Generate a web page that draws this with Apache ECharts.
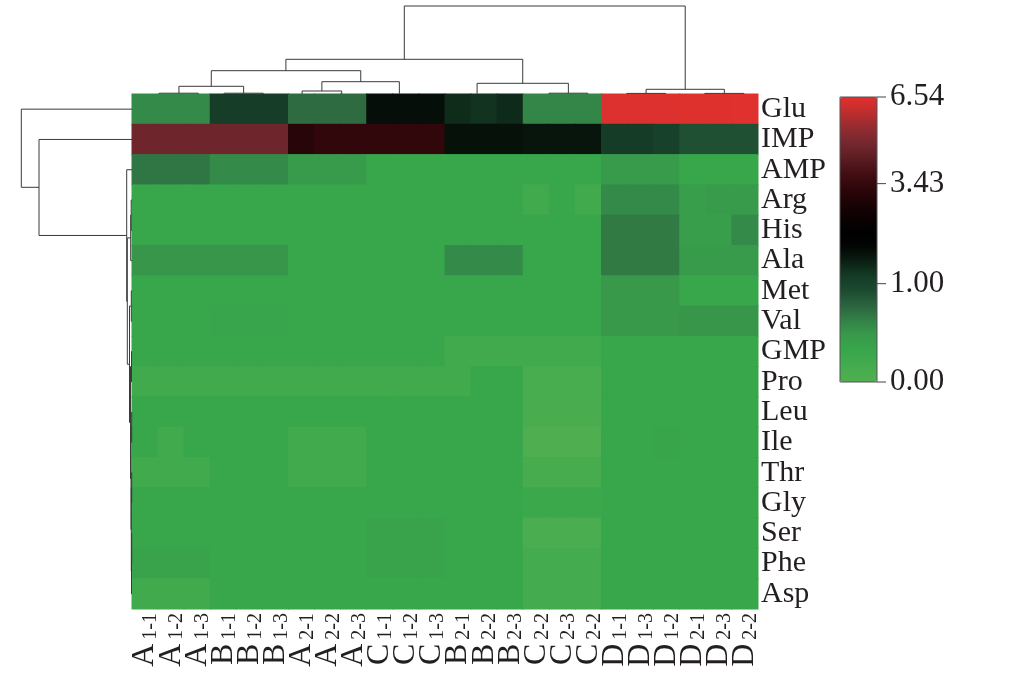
<!DOCTYPE html>
<html>
<head>
<meta charset="utf-8">
<script src="https://cdn.jsdelivr.net/npm/echarts@6/dist/echarts.min.js"></script>
<style>html,body{margin:0;padding:0;background:#fff;}#chart{width:1013px;height:679px;}</style>
</head>
<body>
<div id="chart"></div>
<script>
// ---------- data ----------
const rowLabels = ['Glu','IMP','AMP','Arg','His','Ala','Met','Val','GMP','Pro','Leu','Ile','Thr','Gly','Ser','Phe','Asp'];
const colLabels = ['A1-1','A1-2','A1-3','B1-1','B1-2','B1-3','A2-1','A2-2','A2-3','C1-1','C1-2','C1-3',
                   'B2-1','B2-2','B2-3','C2-2','C2-3','C2-2','D1-1','D1-3','D1-2','D2-1','D2-3','D2-2'];
const cellValues = [
  [0.58,0.58,0.58,1.15,1.15,1.15,0.74,0.74,0.74,1.80,1.80,1.80,1.38,1.30,1.40,0.60,0.60,0.60,6.48,6.48,6.48,6.50,6.50,6.54], // Glu
  [4.75,4.75,4.75,4.75,4.75,4.75,3.20,3.35,3.35,3.35,3.35,3.35,1.75,1.75,1.75,1.68,1.68,1.68,1.17,1.17,1.05,0.90,0.90,0.90], // IMP
  [0.68,0.68,0.68,0.58,0.58,0.58,0.46,0.46,0.46,0.32,0.32,0.32,0.32,0.32,0.32,0.32,0.32,0.32,0.46,0.46,0.46,0.32,0.32,0.32], // AMP
  [0.32,0.32,0.32,0.32,0.32,0.32,0.32,0.32,0.32,0.32,0.32,0.32,0.32,0.32,0.32,0.20,0.32,0.20,0.58,0.58,0.58,0.42,0.46,0.46], // Arg
  [0.32,0.32,0.32,0.32,0.32,0.32,0.32,0.32,0.32,0.32,0.32,0.32,0.32,0.32,0.32,0.32,0.32,0.32,0.66,0.66,0.66,0.42,0.42,0.58], // His
  [0.50,0.50,0.50,0.50,0.50,0.50,0.32,0.32,0.32,0.32,0.32,0.32,0.58,0.58,0.58,0.32,0.32,0.32,0.66,0.66,0.66,0.46,0.46,0.46], // Ala
  [0.32,0.32,0.32,0.32,0.32,0.32,0.32,0.32,0.32,0.32,0.32,0.32,0.32,0.32,0.32,0.32,0.32,0.32,0.48,0.48,0.48,0.32,0.32,0.32], // Met
  [0.32,0.32,0.32,0.35,0.35,0.35,0.32,0.32,0.32,0.32,0.32,0.32,0.32,0.32,0.32,0.32,0.32,0.32,0.48,0.48,0.48,0.50,0.50,0.50], // Val
  [0.32,0.32,0.32,0.32,0.32,0.32,0.32,0.32,0.32,0.32,0.32,0.32,0.20,0.20,0.20,0.20,0.20,0.20,0.32,0.32,0.32,0.32,0.32,0.32], // GMP
  [0.20,0.20,0.20,0.20,0.20,0.20,0.20,0.20,0.20,0.20,0.20,0.20,0.20,0.32,0.32,0.13,0.13,0.13,0.32,0.32,0.32,0.32,0.32,0.32], // Pro
  [0.32,0.32,0.32,0.32,0.32,0.32,0.32,0.32,0.32,0.32,0.32,0.32,0.32,0.32,0.32,0.10,0.10,0.10,0.32,0.32,0.32,0.32,0.32,0.32], // Leu
  [0.32,0.20,0.32,0.32,0.32,0.32,0.20,0.20,0.20,0.32,0.32,0.32,0.32,0.32,0.32,0.03,0.03,0.03,0.32,0.32,0.34,0.32,0.32,0.32], // Ile
  [0.20,0.20,0.20,0.32,0.32,0.32,0.20,0.20,0.20,0.32,0.32,0.32,0.32,0.32,0.32,0.14,0.14,0.14,0.32,0.32,0.32,0.32,0.32,0.32], // Thr
  [0.32,0.32,0.32,0.32,0.32,0.32,0.32,0.32,0.32,0.32,0.32,0.32,0.32,0.32,0.32,0.28,0.28,0.28,0.32,0.32,0.32,0.32,0.32,0.32], // Gly
  [0.32,0.32,0.32,0.32,0.32,0.32,0.32,0.32,0.32,0.36,0.36,0.36,0.32,0.32,0.32,0.08,0.08,0.08,0.32,0.32,0.32,0.32,0.32,0.32], // Ser
  [0.36,0.36,0.36,0.32,0.32,0.32,0.32,0.32,0.32,0.36,0.36,0.36,0.32,0.32,0.32,0.17,0.17,0.17,0.32,0.32,0.32,0.32,0.32,0.32], // Phe
  [0.20,0.20,0.20,0.32,0.32,0.32,0.32,0.32,0.32,0.32,0.32,0.32,0.32,0.32,0.32,0.17,0.17,0.17,0.32,0.32,0.32,0.32,0.32,0.32]  // Asp
];
// colour-bar ticks (values) and where they sit on the bar (fraction of bar height)
const barTickValues = [0.00, 1.00, 3.43, 6.54];
const barTickPositions = [0.000, 0.345, 0.696, 1.000];
// column dendrogram links: [xLeft, xRight, yLeftBottom, yTop, yRightBottom] (x in column units)
const topLinks = [
  [1.05, 2.54, 0, 0.8, 0],
  [3.53, 5.03, 0, 0.8, 0],
  [6.52, 8.04, 0, 3.0, 0],
  [15.99, 17.47, 0, 0.8, 0],
  [18.97, 20.46, 0, 0.6, 0],
  [21.96, 23.46, 0, 0.6, 0],
  [1.80, 4.28, 0.8, 7.7, 0.8],
  [7.28, 10.25, 3.0, 12.3, 0],
  [3.04, 8.77, 7.7, 23.3, 12.3],
  [13.23, 16.73, 0, 10.7, 0.8],
  [5.90, 14.98, 23.3, 34.7, 10.7],
  [19.71, 22.71, 0.6, 4.7, 0.6],
  [10.44, 21.21, 34.7, 88, 4.7]
];
// row dendrogram links: [vTop, vBottom, hTopBranch, hJoin, hBottomBranch] (v in row units)
const leftLinks = [
  [3.5, 4.5, 0, 0.8, 0],
  [4.0, 5.5, 0.8, 1.3, 0],
  [6.5, 7.5, 0, 0.7, 0],
  [8.5, 9.5, 0, 0.5, 0],
  [10.5, 11.5, 0, 0.3, 0],
  [12.5, 13.5, 0, 0.3, 0],
  [14.5, 15.5, 0, 0.3, 0],
  [15.0, 16.5, 0.3, 0.5, 0],
  [13.0, 15.75, 0.3, 0.7, 0.5],
  [11.0, 14.375, 0.3, 1.0, 0.7],
  [9.0, 12.69, 0.5, 1.5, 1.0],
  [7.0, 10.84, 0.7, 2.5, 1.5],
  [4.75, 8.92, 1.3, 4.7, 2.5],
  [2.5, 6.84, 0, 5.3, 4.7],
  [1.5, 4.67, 0, 93, 5.3],
  [0.5, 3.08, 0, 110.7, 93]
];

// ---------- colour scale ----------
const colorStops = [
  [0.000,'#50ae50'],[0.040,'#48ad4f'],[0.110,'#38a64b'],[0.160,'#389b4b'],[0.200,'#348a48'],
  [0.256,'#2e6a41'],[0.316,'#1d4d31'],[0.375,'#133a25'],[0.432,'#0a1a0f'],[0.480,'#020503'],
  [0.516,'#000000'],[0.560,'#070102'],[0.607,'#140204'],[0.667,'#2a0508'],[0.726,'#400d12'],
  [0.782,'#5a1c22'],[0.842,'#76282f'],[0.902,'#9a2c31'],[0.947,'#c02d2e'],[1.000,'#e0312e']
];
function hex2rgb(h){return [parseInt(h.substr(1,2),16),parseInt(h.substr(3,2),16),parseInt(h.substr(5,2),16)];}
function colorAt(t){
  for(let i=1;i<colorStops.length;i++){
    if(t<=colorStops[i][0]){
      const a=colorStops[i-1], b=colorStops[i];
      const f=(t-a[0])/(b[0]-a[0]);
      const ca=hex2rgb(a[1]), cb=hex2rgb(b[1]);
      return 'rgb('+ca.map((v,k)=>Math.round(v+(cb[k]-v)*f)).join(',')+')';
    }
  }
  return colorStops[colorStops.length-1][1];
}
const rampColors=[]; for(let i=0;i<=200;i++) rampColors.push(colorAt(i/200));
// piecewise mapping of value -> position on the colour bar
function toPos(v){
  for(let i=1;i<barTickValues.length;i++){
    if(v<=barTickValues[i]){
      const f=(v-barTickValues[i-1])/(barTickValues[i]-barTickValues[i-1]);
      return barTickPositions[i-1]+f*(barTickPositions[i]-barTickPositions[i-1]);
    }
  }
  return 1;
}

const heatData=[];
cellValues.forEach((row,r)=>row.forEach((v,c)=>heatData.push([c,r,v,toPos(v)])));

const SERIF='"Liberation Serif","Times New Roman",serif';
const LINE='#3a3a3a';
const TXT='#231f20';

const chart=echarts.init(document.getElementById('chart'),null,{renderer:'canvas'});
chart.setOption({
  animation:false,
  backgroundColor:'#fff',
  grid:[
    {left:132, top:94, width:626, height:515},
    {left:132, top:4, width:626, height:90},
    {left:12, top:94, width:120, height:515},
    {left:840, top:97, width:37, height:285}
  ],
  xAxis:[
    {gridIndex:0, type:'category', data:colLabels.map((l,i)=>i+':'+l), position:'bottom',
     axisLine:{show:false}, axisTick:{show:false}, splitLine:{show:false},
     axisLabel:{interval:0, rotate:90, margin:4, color:TXT,
       formatter:function(v){const l=v.split(':')[1];return '{m|'+l.charAt(0)+'}{s|'+l.substr(1)+'}';},
       rich:{m:{fontFamily:SERIF,fontSize:32,color:TXT,padding:[0,4,0,0]},
             s:{fontFamily:SERIF,fontSize:20,color:TXT,verticalAlign:'bottom'}}}},
    {gridIndex:1, type:'value', min:0, max:24, show:false},
    {gridIndex:2, type:'value', min:0, max:120, inverse:true, show:false},
    {gridIndex:3, type:'value', min:0, max:1, show:false}
  ],
  yAxis:[
    {gridIndex:0, type:'category', data:rowLabels, inverse:true, position:'right',
     axisLine:{show:false}, axisTick:{show:false}, splitLine:{show:false},
     axisLabel:{interval:0, margin:3, fontFamily:SERIF, fontSize:30, color:TXT}},
    {gridIndex:1, type:'value', min:0, max:90, show:false},
    {gridIndex:2, type:'value', min:0, max:17, inverse:true, show:false},
    {gridIndex:3, type:'value', min:0, max:1, position:'right',
     axisLine:{show:false}, splitLine:{show:false}, axisTick:{show:false},
     axisLabel:{show:true, margin:13, customValues:barTickPositions, fontFamily:SERIF, fontSize:31, color:TXT,
       formatter:function(v){let best=0;for(let i=0;i<barTickPositions.length;i++){if(Math.abs(barTickPositions[i]-v)<Math.abs(barTickPositions[best]-v))best=i;}return barTickValues[best].toFixed(2);}}}
  ],
  visualMap:{
    type:'continuous', seriesIndex:0, dimension:3, min:0, max:1,
    calculable:false, hoverLink:false, realtime:false,
    left:840, top:97, itemWidth:37, itemHeight:285, padding:0,
    text:null, showLabel:false,
    inRange:{color:rampColors}
  },
  series:[
    {type:'custom', xAxisIndex:0, yAxisIndex:0, data:heatData, encode:{x:0,y:1}, silent:true,
     renderItem:function(p,api){
       const c=api.coord([api.value(0),api.value(1)]), s=api.size([1,1]);
       return {type:'rect', shape:{x:c[0]-s[0]/2-0.5, y:c[1]-s[1]/2-0.5, width:s[0]+1, height:s[1]+1},
               style:{fill:api.visual('color'), stroke:null}};
     }},
    {type:'custom', xAxisIndex:1, yAxisIndex:1, data:topLinks, encode:{x:[0,1],y:[2,3,4]}, silent:true,
     renderItem:function(p,api){
       const a=api.coord([api.value(0),api.value(2)]), b=api.coord([api.value(0),api.value(3)]),
             c=api.coord([api.value(1),api.value(3)]), d=api.coord([api.value(1),api.value(4)]);
       return {type:'polyline', shape:{points:[a,b,c,d]}, style:{stroke:LINE, lineWidth:1, fill:null}};
     }},
    {type:'custom', xAxisIndex:2, yAxisIndex:2, data:leftLinks, encode:{y:[0,1],x:[2,3,4]}, silent:true,
     renderItem:function(p,api){
       const a=api.coord([api.value(2),api.value(0)]), b=api.coord([api.value(3),api.value(0)]),
             c=api.coord([api.value(3),api.value(1)]), d=api.coord([api.value(4),api.value(1)]);
       return {type:'polyline', shape:{points:[a,b,c,d]}, style:{stroke:LINE, lineWidth:1, fill:null}};
     }},
    // colour-bar frame and tick marks
    {type:'custom', xAxisIndex:3, yAxisIndex:3, data:barTickPositions.map(p=>[1,p]), encode:{x:0,y:1}, silent:true, z:10,
     renderItem:function(p,api){
       const pt=api.coord([1,api.value(1)]);
       const children=[{type:'line', shape:{x1:pt[0], y1:pt[1], x2:pt[0]+9, y2:pt[1]}, style:{stroke:'#444', lineWidth:1}}];
       if(p.dataIndex===0){
         const lo=api.coord([0,0]), hi=api.coord([1,1]);
         children.push({type:'rect', shape:{x:lo[0], y:hi[1], width:hi[0]-lo[0], height:lo[1]-hi[1]},
                        style:{fill:null, stroke:'#555', lineWidth:1}});
       }
       return {type:'group', children:children};
     }}
  ]
});
</script>
</body>
</html>
